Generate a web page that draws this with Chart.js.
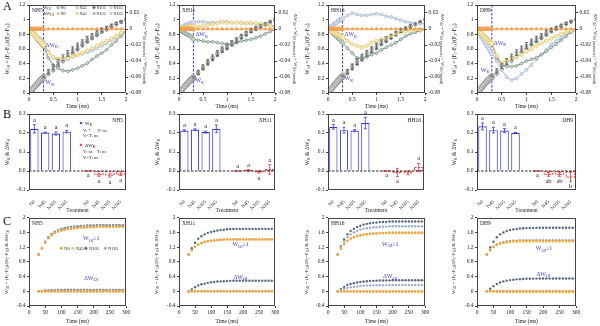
<!DOCTYPE html>
<html>
<head>
<meta charset="utf-8">
<script src="https://cdn.jsdelivr.net/npm/chart.js@4.4.1/dist/chart.umd.min.js"></script>
<style>
  body { margin: 0; background: #fff; width: 600px; height: 326px; position: relative; overflow: hidden; }
  canvas { position: absolute; }
  .lab { position: absolute; font: 12px 'Liberation Serif', serif; color: #111; }
</style>
</head>
<body>
<div class="lab" style="left:3px;top:-1px">A</div>
<div class="lab" style="left:3px;top:107px">B</div>
<div class="lab" style="left:3px;top:214px">C</div>

<canvas id="a1" width="150" height="110" style="left:0;top:0"></canvas>
<canvas id="a2" width="150" height="110" style="left:150px;top:0"></canvas>
<canvas id="a3" width="147" height="110" style="left:300px;top:0"></canvas>
<canvas id="a4" width="153" height="110" style="left:447px;top:0"></canvas>
<canvas id="b1" width="150" height="107" style="left:0;top:108px"></canvas>
<canvas id="b2" width="150" height="107" style="left:150px;top:108px"></canvas>
<canvas id="b3" width="147" height="107" style="left:300px;top:108px"></canvas>
<canvas id="b4" width="153" height="107" style="left:447px;top:108px"></canvas>
<canvas id="c1" width="150" height="113" style="left:0;top:213px"></canvas>
<canvas id="c2" width="150" height="113" style="left:150px;top:213px"></canvas>
<canvas id="c3" width="147" height="113" style="left:300px;top:213px"></canvas>
<canvas id="c4" width="153" height="113" style="left:447px;top:213px"></canvas>

<script>
// ---------- row A: W_OJ (left axis) and ΔW_OJ (right axis) vs time (ms) ----------
const tA = [0, 0.03, 0.06, 0.09, 0.12, 0.15, 0.18, 0.21, 0.24, 0.27, 0.3,
  0.4, 0.5, 0.6, 0.7, 0.8, 0.9, 1, 1.1, 1.2, 1.3, 1.4, 1.5, 1.6, 1.7, 1.8, 1.9, 2];
const zeroA = [0, 0, 0, 0, 0, 0, 0, 0, 0, 0, 0,
  0, 0, 0, 0, 0, 0, 0, 0, 0, 0, 0, 0, 0, 0, 0, 0, 0];
const errW = [0, 0, 0, 0, 0, 0, 0, 0, 0, 0, 0.01,
  0.03, 0.035, 0.04, 0.04, 0.04, 0.04, 0.04, 0.035, 0.035, 0.03, 0.03, 0.025, 0.02, 0.02, 0.015, 0.01, 0];

const aNH5_W0 = [0, 0.02, 0.045, 0.07, 0.095, 0.12, 0.14, 0.165, 0.185, 0.205, 0.222,
  0.29, 0.35, 0.42, 0.48, 0.54, 0.59, 0.64, 0.69, 0.74, 0.78, 0.82, 0.86, 0.89, 0.92, 0.95, 0.975, 1];
const aNH5_d45 = [0, -0.002, -0.004, -0.006, -0.008, -0.01, -0.012, -0.014, -0.016, -0.018, -0.02,
  -0.03, -0.035, -0.037, -0.037, -0.036, -0.034, -0.032, -0.03, -0.027, -0.024, -0.021, -0.018, -0.015, -0.012, -0.009, -0.005, -0.002];
const aNH5_d105 = [0, -0.002, -0.005, -0.007, -0.009, -0.011, -0.014, -0.016, -0.018, -0.02, -0.022,
  -0.036, -0.045, -0.049, -0.052, -0.053, -0.051, -0.049, -0.046, -0.043, -0.038, -0.034, -0.03, -0.026, -0.02, -0.015, -0.009, -0.003];
const aNH5_d165 = [0, -0.002, -0.003, -0.005, -0.007, -0.009, -0.011, -0.012, -0.014, -0.016, -0.017,
  -0.028, -0.036, -0.04, -0.04, -0.038, -0.035, -0.033, -0.031, -0.029, -0.027, -0.024, -0.021, -0.018, -0.014, -0.01, -0.006, -0.002];

const aXH11_W0 = [0, 0.02, 0.044, 0.068, 0.092, 0.115, 0.137, 0.158, 0.178, 0.196, 0.213,
  0.28, 0.35, 0.42, 0.48, 0.54, 0.59, 0.63, 0.68, 0.72, 0.77, 0.81, 0.85, 0.88, 0.91, 0.94, 0.97, 1];
const aXH11_d45 = [0, 0, 0.001, 0.001, 0.001, 0.002, 0.002, 0.002, 0.003, 0.003, 0.003,
  0.003, 0.004, 0.005, 0.006, 0.007, 0.009, 0.008, 0.008, 0.008, 0.008, 0.007, 0.008, 0.007, 0.006, 0.005, 0.004, 0.002];
const aXH11_d105 = [0, -0.001, -0.003, -0.004, -0.005, -0.006, -0.007, -0.008, -0.009, -0.011, -0.013,
  -0.014, -0.015, -0.016, -0.016, -0.017, -0.018, -0.019, -0.02, -0.017, -0.015, -0.014, -0.013, -0.011, -0.009, -0.006, -0.003, -0.001];
const aXH11_d165 = [0, 0.001, 0.002, 0.003, 0.004, 0.005, 0.006, 0.006, 0.007, 0.008, 0.008,
  0.009, 0.009, 0.008, 0.008, 0.008, 0.009, 0.009, 0.008, 0.008, 0.007, 0.007, 0.007, 0.006, 0.006, 0.006, 0.005, 0.003];

const aHH16_W0 = [0, 0.022, 0.048, 0.074, 0.1, 0.125, 0.15, 0.172, 0.193, 0.213, 0.232,
  0.29, 0.36, 0.43, 0.49, 0.54, 0.59, 0.64, 0.69, 0.73, 0.77, 0.81, 0.85, 0.88, 0.91, 0.94, 0.97, 1];
const aHH16_d45 = [0, -0.001, -0.002, -0.003, -0.004, -0.005, -0.006, -0.007, -0.008, -0.009, -0.01,
  -0.015, -0.019, -0.021, -0.023, -0.021, -0.017, -0.015, -0.013, -0.011, -0.009, -0.007, -0.004, -0.003, -0.002, -0.001, -0.001, 0];
const aHH16_d105 = [0, -0.002, -0.003, -0.005, -0.007, -0.008, -0.01, -0.012, -0.013, -0.015, -0.017,
  -0.024, -0.03, -0.036, -0.037, -0.035, -0.032, -0.03, -0.026, -0.023, -0.02, -0.017, -0.013, -0.009, -0.006, -0.004, -0.002, 0];
const aHH16_d165 = [0, 0.001, 0.003, 0.004, 0.006, 0.007, 0.008, 0.01, 0.011, 0.012, 0.013,
  0.017, 0.02, 0.018, 0.017, 0.017, 0.018, 0.019, 0.018, 0.016, 0.015, 0.013, 0.011, 0.009, 0.008, 0.006, 0.007, 0.007];

const aDH9_W0 = [0, 0.022, 0.049, 0.076, 0.102, 0.128, 0.152, 0.175, 0.196, 0.216, 0.235,
  0.3, 0.37, 0.43, 0.49, 0.55, 0.6, 0.65, 0.7, 0.74, 0.78, 0.82, 0.86, 0.89, 0.92, 0.95, 0.975, 1];
const aDH9_d45 = [0, -0.002, -0.004, -0.006, -0.008, -0.01, -0.012, -0.014, -0.016, -0.017, -0.018,
  -0.033, -0.042, -0.04, -0.038, -0.035, -0.032, -0.028, -0.025, -0.021, -0.018, -0.015, -0.012, -0.009, -0.006, -0.004, -0.002, -0.001];
const aDH9_d105 = [0, -0.002, -0.004, -0.006, -0.008, -0.01, -0.011, -0.013, -0.015, -0.017, -0.018,
  -0.036, -0.045, -0.047, -0.047, -0.046, -0.043, -0.04, -0.038, -0.036, -0.032, -0.028, -0.023, -0.019, -0.014, -0.009, -0.004, -0.001];
const aDH9_d165 = [0, -0.003, -0.006, -0.01, -0.013, -0.016, -0.019, -0.022, -0.025, -0.028, -0.031,
  -0.04, -0.051, -0.06, -0.064, -0.062, -0.056, -0.051, -0.045, -0.038, -0.032, -0.026, -0.019, -0.015, -0.011, -0.006, -0.003, -0.001];

const tickAx = [0, 0.5, 1, 1.5, 2];
const tickAy = [0, 0.2, 0.4, 0.6, 0.8, 1, 1.2];
const tickAy2 = [-0.08, -0.06, -0.04, -0.02, 0, 0.02];

// ---------- row B: W_K and ΔW_K bars ----------
const catB = ['N0', 'N45', 'N105', 'N165', '', 'N0', 'N45', 'N105', 'N165'];
const tickBy = [-0.1, 0, 0.1, 0.2, 0.3];

const bNH5_WK = [0.222, 0.202, 0.197, 0.207];
const bNH5_WKerr = [0.022, 0.003, 0.008, 0.006];
const bNH5_dWK = [0, -0.02, -0.022, -0.017];
const bNH5_dWKerr = [0, 0.008, 0.01, 0.007];
const bNH5_sig = ['a', 'a', 'a', 'a'];

const bXH11_WK = [0.213, 0.218, 0.205, 0.222];
const bXH11_WKerr = [0.004, 0.004, 0.005, 0.02];
const bXH11_dWK = [0, 0.003, -0.005, 0.008];
const bXH11_dWKerr = [0, 0.004, 0.006, 0.025];
const bXH11_sig = ['a', 'a', 'a', 'a'];

const bHH16_WK = [0.232, 0.215, 0.213, 0.252];
const bHH16_WKerr = [0.012, 0.015, 0.005, 0.03];
const bHH16_dWK = [0, -0.008, -0.01, 0.018];
const bHH16_dWKerr = [0, 0.022, 0.01, 0.022];
const bHH16_sig = ['a', 'a', '', 'a'];

const bDH9_WK = [0.235, 0.215, 0.213, 0.201];
const bDH9_WKerr = [0.018, 0.015, 0.01, 0.002];
const bDH9_dWK = [0, -0.018, -0.018, -0.032];
const bDH9_dWKerr = [0, 0.01, 0.01, 0.025];
const bDH9_sig = ['a', 'ab', 'ab', 'b'];

const sigWK = ['a', 'a', 'a', 'a'];

// ---------- row C: W_OI and ΔW_OI vs time (ms) ----------
const tC = [30, 40, 50, 60, 70, 80, 90, 100, 110, 120, 130, 140, 150, 160,
  170, 180, 190, 200, 210, 220, 230, 240, 250, 260, 270, 280, 290, 300];
const zeroC = [0, 0, 0, 0, 0, 0, 0, 0, 0, 0, 0, 0, 0, 0, 0, 0, 0, 0, 0, 0, 0, 0, 0, 0, 0, 0, 0, 0];

const cNH5_W0 = [1, 1.17, 1.33, 1.45, 1.53, 1.59, 1.63, 1.66, 1.68, 1.7, 1.71, 1.72, 1.73, 1.74,
  1.74, 1.75, 1.75, 1.75, 1.76, 1.76, 1.76, 1.76, 1.76, 1.76, 1.76, 1.76, 1.76, 1.76];
const cNH5_d45 = [0, -0.004, -0.007, -0.009, -0.01, -0.01, -0.011, -0.011, -0.012, -0.012, -0.012, -0.012, -0.012, -0.012,
  -0.012, -0.012, -0.012, -0.012, -0.012, -0.012, -0.012, -0.012, -0.012, -0.012, -0.012, -0.012, -0.012, -0.012];
const cNH5_d105 = [0, 0.01, 0.02, 0.025, 0.03, 0.033, 0.035, 0.037, 0.038, 0.039, 0.04, 0.04, 0.04, 0.04,
  0.04, 0.04, 0.04, 0.04, 0.04, 0.04, 0.04, 0.04, 0.04, 0.04, 0.04, 0.04, 0.04, 0.04];
const cNH5_d165 = [0, 0.005, 0.01, 0.012, 0.014, 0.015, 0.016, 0.017, 0.018, 0.018, 0.019, 0.019, 0.02, 0.02,
  0.02, 0.02, 0.02, 0.02, 0.02, 0.02, 0.02, 0.02, 0.02, 0.02, 0.02, 0.02, 0.02, 0.02];

const cXH11_W0 = [1, 1.12, 1.21, 1.27, 1.31, 1.34, 1.36, 1.37, 1.38, 1.39, 1.4, 1.4, 1.41, 1.41,
  1.41, 1.41, 1.41, 1.41, 1.41, 1.41, 1.41, 1.41, 1.41, 1.41, 1.41, 1.41, 1.41, 1.41];
const cXH11_d45 = [0, 0, 0.003, 0.004, 0.005, 0.005, 0.006, 0.006, 0.006, 0.006, 0.006, 0.006, 0.006, 0.006,
  0.006, 0.006, 0.006, 0.006, 0.006, 0.006, 0.006, 0.006, 0.006, 0.006, 0.006, 0.006, 0.006, 0.006];
const cXH11_d105 = [0, 0.05, 0.11, 0.16, 0.19, 0.21, 0.23, 0.245, 0.255, 0.265, 0.27, 0.275, 0.28, 0.285,
  0.287, 0.29, 0.29, 0.29, 0.29, 0.29, 0.29, 0.29, 0.29, 0.29, 0.29, 0.29, 0.29, 0.29];
const cXH11_d165 = [0, 0.002, 0.004, 0.006, 0.007, 0.008, 0.009, 0.01, 0.01, 0.01, 0.01, 0.01, 0.01, 0.01,
  0.01, 0.01, 0.01, 0.01, 0.01, 0.01, 0.01, 0.01, 0.01, 0.01, 0.01, 0.01, 0.01, 0.01];

const cHH16_W0 = [1, 1.16, 1.29, 1.38, 1.44, 1.48, 1.51, 1.53, 1.55, 1.56, 1.57, 1.58, 1.58, 1.59,
  1.59, 1.59, 1.6, 1.6, 1.6, 1.6, 1.6, 1.6, 1.6, 1.6, 1.6, 1.6, 1.6, 1.6];
const cHH16_d45 = [0, -0.005, -0.01, -0.012, -0.015, -0.017, -0.018, -0.019, -0.02, -0.02, -0.02, -0.02, -0.02, -0.02,
  -0.02, -0.02, -0.02, -0.02, -0.02, -0.02, -0.02, -0.02, -0.02, -0.02, -0.02, -0.02, -0.02, -0.02];
const cHH16_d105 = [0, 0.06, 0.12, 0.17, 0.2, 0.22, 0.24, 0.255, 0.265, 0.275, 0.28, 0.285, 0.29, 0.293,
  0.295, 0.297, 0.298, 0.3, 0.3, 0.3, 0.3, 0.3, 0.3, 0.3, 0.3, 0.3, 0.3, 0.3];
const cHH16_d165 = [0, 0.03, 0.07, 0.09, 0.11, 0.125, 0.135, 0.145, 0.15, 0.155, 0.16, 0.162, 0.165, 0.167,
  0.168, 0.169, 0.17, 0.17, 0.17, 0.17, 0.17, 0.17, 0.17, 0.17, 0.17, 0.17, 0.17, 0.17];

const cDH9_W0 = [1, 1.12, 1.21, 1.27, 1.31, 1.33, 1.35, 1.36, 1.37, 1.37, 1.38, 1.38, 1.38, 1.38,
  1.38, 1.38, 1.38, 1.38, 1.38, 1.38, 1.38, 1.38, 1.38, 1.38, 1.38, 1.38, 1.38, 1.38];
const cDH9_d45 = [0, -0.01, -0.015, -0.02, -0.022, -0.025, -0.027, -0.028, -0.029, -0.03, -0.03, -0.03, -0.03, -0.03,
  -0.03, -0.03, -0.03, -0.03, -0.03, -0.03, -0.03, -0.03, -0.03, -0.03, -0.03, -0.03, -0.03, -0.03];
const cDH9_d105 = [0, 0.07, 0.14, 0.2, 0.24, 0.27, 0.29, 0.305, 0.315, 0.325, 0.33, 0.335, 0.34, 0.342,
  0.344, 0.346, 0.348, 0.35, 0.35, 0.35, 0.35, 0.35, 0.35, 0.35, 0.35, 0.35, 0.35, 0.35];
const cDH9_d165 = [0, 0.003, 0.005, 0.007, 0.008, 0.009, 0.01, 0.01, 0.01, 0.01, 0.01, 0.01, 0.01, 0.01,
  0.01, 0.01, 0.01, 0.01, 0.01, 0.01, 0.01, 0.01, 0.01, 0.01, 0.01, 0.01, 0.01, 0.01];

const tickCx = [0, 50, 100, 150, 200, 250, 300];
const tickCy = [-0.4, 0, 0.4, 0.8, 1.2, 1.6, 2];

// ---------- shared helpers ----------
const FONT = 'Liberation Serif';
const BLUE = '#3a3ad2';
const RED = '#e03a3a';
const INK = '#222';
Chart.defaults.font.family = FONT;
Chart.defaults.font.size = 5.5;
Chart.defaults.color = INK;

// text with subscripts: parts = [[text, isSub], ...]
function rich(ctx, parts, x, y, rot, size, color, align) {
  const sub = size * 0.72;
  const f = p => (p[1] ? sub : size) + 'px "' + FONT + '"';
  ctx.save();
  ctx.translate(x, y);
  ctx.rotate(rot);
  ctx.fillStyle = color;
  ctx.textAlign = 'left';
  ctx.textBaseline = 'alphabetic';
  let w = 0;
  parts.forEach(p => { ctx.font = f(p); w += ctx.measureText(p[0]).width; });
  let cx = align === 'l' ? 0 : align === 'r' ? -w : -w / 2;
  parts.forEach(p => {
    ctx.font = f(p);
    ctx.fillText(p[0], cx, size * 0.35 + (p[1] ? size * 0.28 : 0));
    cx += ctx.measureText(p[0]).width;
  });
  ctx.restore();
}

function mark(ctx, shape, x, y, r, stroke, fill) {
  ctx.save();
  ctx.beginPath();
  if (shape === 'triangle') {
    ctx.moveTo(x, y - r); ctx.lineTo(x + r * 0.9, y + r * 0.6); ctx.lineTo(x - r * 0.9, y + r * 0.6); ctx.closePath();
  } else if (shape === 'rectRot') {
    ctx.moveTo(x, y - r); ctx.lineTo(x + r, y); ctx.lineTo(x, y + r); ctx.lineTo(x - r, y); ctx.closePath();
  } else if (shape === 'rect') {
    ctx.rect(x - r * 0.8, y - r * 0.8, r * 1.6, r * 1.6);
  } else {
    ctx.arc(x, y, r, 0, Math.PI * 2);
  }
  ctx.fillStyle = fill; ctx.fill();
  ctx.strokeStyle = stroke; ctx.lineWidth = 0.7; ctx.stroke();
  ctx.restore();
}

const frame = {
  id: 'frame',
  afterDatasetsDraw(c) {
    const a = c.chartArea, ctx = c.ctx;
    ctx.save();
    ctx.strokeStyle = '#444';
    ctx.lineWidth = 1;
    ctx.strokeRect(Math.round(a.left) + 0.5, Math.round(a.top) + 0.5,
      Math.round(a.right - a.left) - 1, Math.round(a.bottom - a.top) - 1);
    ctx.restore();
  }
};

// error bars, dashed bar outlines and significance letters
const errbars = {
  id: 'errbars',
  afterDatasetsDraw(c) {
    const ctx = c.ctx;
    c.data.datasets.forEach((ds, di) => {
      if (!ds.errs && !ds.dashed) return;
      const meta = c.getDatasetMeta(di);
      const ys = c.scales[meta.yAxisID];
      ctx.save();
      meta.data.forEach((el, i) => {
        const d = ds.data[i];
        const v = d !== null && typeof d === 'object' ? d.y : d;
        if (v == null) return;
        const e = ds.errs ? ds.errs[i] || 0 : 0;
        if (ds.dashed) {
          const p = el.getProps(['x', 'y', 'base', 'width'], true);
          ctx.strokeStyle = ds.dashed;
          ctx.lineWidth = 1;
          ctx.setLineDash([2, 1.3]);
          ctx.strokeRect(p.x - p.width / 2, Math.min(p.y, p.base), p.width, Math.abs(p.base - p.y));
          ctx.setLineDash([]);
        }
        if (e > 0) {
          const y1 = ys.getPixelForValue(v + e), y2 = ys.getPixelForValue(v - e);
          ctx.strokeStyle = ds.errColor;
          ctx.lineWidth = 0.8;
          ctx.beginPath();
          ctx.moveTo(el.x, y1); ctx.lineTo(el.x, y2);
          ctx.moveTo(el.x - 1.5, y1); ctx.lineTo(el.x + 1.5, y1);
          ctx.moveTo(el.x - 1.5, y2); ctx.lineTo(el.x + 1.5, y2);
          ctx.stroke();
        }
        if (ds.sig && ds.sig[i]) {
          const dir = ds.sigDir ? ds.sigDir[i] : 1;
          ctx.fillStyle = INK;
          ctx.font = '6.5px "' + FONT + '"';
          ctx.textAlign = 'center';
          ctx.textBaseline = dir > 0 ? 'bottom' : 'top';
          ctx.fillText(ds.sig[i], el.x, ys.getPixelForValue(v + dir * e) - dir * 1.5);
        }
      });
      ctx.restore();
    });
  }
};

const setTicks = arr => s => { s.ticks = arr.map(v => ({ value: v })); };

function axis(position, min, max, ticks, fmt, fit) {
  return {
    type: 'linear', position, min, max,
    afterBuildTicks: setTicks(ticks),
    afterFit: fit,
    grid: { drawOnChartArea: false, tickLength: 2, color: '#444' },
    border: { display: false },
    ticks: { padding: 1.5, font: { size: 5.5 }, callback: fmt }
  };
}

const baseOpts = {
  responsive: false,
  animation: false,
  events: [],
  plugins: { legend: { display: false }, tooltip: { enabled: false } }
};

const titleA = [['W', 0], ['OJ', 1], [' = (F', 0], ['t', 1], ['\u2212F', 0], ['O', 1], [')/(F', 0], ['J', 1], ['\u2212F', 0], ['O', 1], [')', 0]];
const titleA2 = [['\u0394W', 0], ['OJ', 1], [' = W', 0], ['OJ (treatment)', 1], [' \u2212 W', 0], ['OJ (control)', 1]];
const titleB = [['W', 0], ['K', 1], [' & \u0394W', 0], ['K', 1]];
const titleC = [['W', 0], ['OI', 1], [' = (F', 0], ['t', 1], ['\u2212F', 0], ['O', 1], [')/(F', 0], ['I', 1], ['\u2212F', 0], ['O', 1], [') & \u0394W', 0], ['OI', 1]];

const styA = {
  d0: ['#f0a050', '#f0a050', 'triangle'],
  d45: ['#e0c866', '#f6ecc4', 'circle'],
  d105: ['#6f8c7c', '#c9d5cd', 'rectRot'],
  d165: ['#a9b6d6', '#e2e7f3', 'rect'],
  w0: ['#8a8a8a', '#d4d4d4', 'circle'],
  w45: ['#a5a5a5', '#e2e2e2', 'circle'],
  w105: ['#707070', '#707070', 'circle'],
  w165: ['#a8b4d0', '#d8dfee', 'circle']
};

// the dense 0-0.3 ms part reads as a thick band in the figure
const radA = small => ctx => (ctx.raw && ctx.raw.x <= 0.3 ? 2.4 : small);

// ---------- row A ----------
function panelA(id, name, w0, d45, d105, d165, lab, L, R, legend) {
  const pts = arr => tA.map((t, i) => ({ x: t, y: arr[i] }));
  const wT = d => tA.map((t, i) => ({ x: t, y: w0[i] + d[i] }));
  const dsD = (data, s) => ({ data, yAxisID: 'y2', showLine: true, borderColor: s[0], borderWidth: 1,
    pointStyle: s[2], pointRadius: radA(1.8), pointBorderWidth: 0.7, pointBorderColor: s[0], pointBackgroundColor: s[1] });
  const dsW = (data, s) => ({ data, yAxisID: 'y', showLine: false,
    pointStyle: s[2], pointRadius: radA(1.5), pointBorderWidth: 0.7, pointBorderColor: s[0], pointBackgroundColor: s[1] });
  const w0ds = dsW(pts(w0), styA.w0);
  w0ds.errs = errW;
  w0ds.errColor = '#555';
  new Chart(document.getElementById(id), {
    type: 'scatter',
    data: {
      datasets: [
        dsD(pts(zeroA), styA.d0),
        dsD(pts(d45), styA.d45),
        dsD(pts(d105), styA.d105),
        dsD(pts(d165), styA.d165),
        w0ds,
        dsW(wT(d45), styA.w45),
        dsW(wT(d105), styA.w105),
        dsW(wT(d165), styA.w165)
      ]
    },
    options: Object.assign({}, baseOpts, {
      layout: { padding: { top: 5, left: 0, right: 0, bottom: 0 } },
      scales: {
        x: axis('bottom', 0, 2, tickAx, v => String(v), s => { s.height = 17; }),
        y: axis('left', 0, 1.2, tickAy, v => String(+v.toFixed(1)), s => { s.width = L; }),
        y2: axis('right', -0.08, 0.03, tickAy2, v => String(+v.toFixed(2)), s => { s.width = R; })
      }
    }),
    plugins: [frame, errbars, {
      id: 'txtA',
      beforeDatasetsDraw(c) {
        const a = c.chartArea, ctx = c.ctx;
        const px = c.scales.x.getPixelForValue(0.3);
        ctx.save();
        ctx.strokeStyle = BLUE;
        ctx.lineWidth = 1;
        ctx.setLineDash([2.5, 1.5]);
        ctx.beginPath(); ctx.moveTo(px, a.top); ctx.lineTo(px, a.bottom); ctx.stroke();
        ctx.restore();
      },
      afterDraw(c) {
        const a = c.chartArea, ctx = c.ctx, ys = c.scales.y;
        const px = c.scales.x.getPixelForValue(0.3);
        rich(ctx, [['\u0394W', 0], ['K', 1]], px + lab[0], ys.getPixelForValue(lab[1]), 0, 6, BLUE, 'l');
        rich(ctx, [['W', 0], ['K', 1]], px + lab[2], ys.getPixelForValue(lab[3]), 0, 6, BLUE, 'l');
        rich(ctx, [[name, 0]], a.left + 3, a.top + 5, 0, 5.5, INK, 'l');
        rich(ctx, titleA, 7, (a.top + a.bottom) / 2, -Math.PI / 2, 5.5, INK, 'c');
        rich(ctx, titleA2, c.width - 4, (a.top + a.bottom) / 2, Math.PI / 2, 5, INK, 'c');
        rich(ctx, [['Time (ms)', 0]], (a.left + a.right) / 2, c.height - 3.5, 0, 5.5, INK, 'c');
        if (legend) {
          const r1 = a.top + 2.5, r2 = a.top + 8.5;
          rich(ctx, [['W', 0], ['OJ', 1]], a.left + 14, r1, 0, 4.5, INK, 'l');
          rich(ctx, [['\u0394W', 0], ['OJ', 1]], a.left + 14, r2, 0, 4.5, INK, 'l');
          const xs = [29, 48, 65, 82];
          const lbl = ['N0', 'N45', 'N105', 'N165'];
          const wS = [styA.w0, styA.w45, styA.w105, styA.w165];
          const dS = [styA.d0, styA.d45, styA.d105, styA.d165];
          xs.forEach((dx, i) => {
            mark(ctx, wS[i][2], a.left + dx, r1, 1.3, wS[i][0], wS[i][1]);
            mark(ctx, dS[i][2], a.left + dx, r2, 1.3, dS[i][0], dS[i][1]);
            rich(ctx, [[lbl[i], 0]], a.left + dx + 2.5, r1, 0, 4.2, INK, 'l');
            rich(ctx, [[lbl[i], 0]], a.left + dx + 2.5, r2, 0, 4.2, INK, 'l');
          });
        }
      }
    }]
  });
}

// ---------- row B ----------
function panelB(id, name, wk, wkE, dwk, dwkE, sigD, dirD, L, R, legend) {
  const pad5 = [null, null, null, null, null];
  new Chart(document.getElementById(id), {
    type: 'bar',
    data: {
      labels: catB,
      datasets: [
        { data: wk.concat(pad5), errs: wkE.concat(pad5), sig: sigWK.concat(pad5), errColor: BLUE,
          backgroundColor: '#fff', borderColor: BLUE, borderWidth: 1.1, grouped: false,
          barPercentage: 0.78, categoryPercentage: 1 },
        { data: pad5.concat(dwk), errs: pad5.concat(dwkE), sig: pad5.concat(sigD), sigDir: pad5.concat(dirD),
          errColor: RED, dashed: RED, backgroundColor: 'rgba(255,255,255,0)', borderWidth: 0, grouped: false,
          barPercentage: 0.78, categoryPercentage: 1 }
      ]
    },
    options: Object.assign({}, baseOpts, {
      layout: { padding: { top: 6, left: 0, right: R, bottom: 0 } },
      scales: {
        x: {
          type: 'category', offset: true,
          afterFit: s => { s.height = 25; },
          grid: { display: false },
          border: { display: false },
          ticks: { autoSkip: false, minRotation: 45, maxRotation: 45, padding: 1, font: { size: 5 } }
        },
        y: axis('left', -0.1, 0.3, tickBy, v => v.toFixed(1), s => { s.width = L; })
      }
    }),
    plugins: [frame, errbars, {
      id: 'txtB',
      afterDraw(c) {
        const a = c.chartArea, ctx = c.ctx;
        const y0 = c.scales.y.getPixelForValue(0);
        ctx.save();
        ctx.strokeStyle = '#111';
        ctx.lineWidth = 0.9;
        ctx.setLineDash([2.5, 1.5]);
        ctx.beginPath(); ctx.moveTo(a.left, y0); ctx.lineTo(a.right, y0); ctx.stroke();
        ctx.restore();
        rich(ctx, [[name, 0]], a.right - 3, a.top + 6, 0, 5.5, INK, 'r');
        rich(ctx, titleB, 7, (a.top + a.bottom) / 2, -Math.PI / 2, 5.5, INK, 'c');
        rich(ctx, [['Treatment', 0]], (a.left + a.right) / 2, c.height - 5, 0, 5.5, INK, 'c');
        if (legend) {
          const x0 = a.left + 52;
          mark(ctx, 'circle', x0, a.top + 9, 0.9, BLUE, BLUE);
          rich(ctx, [['W', 0], ['K', 1]], x0 + 4, a.top + 9, 0, 5, INK, 'l');
          rich(ctx, [['V: *      T: ns', 0]], x0 + 2, a.top + 16, 0, 4.6, INK, 'l');
          rich(ctx, [['V\u00d7T: ns', 0]], x0 + 2, a.top + 21.5, 0, 4.6, INK, 'l');
          mark(ctx, 'circle', x0, a.top + 31, 0.9, RED, RED);
          rich(ctx, [['\u0394W', 0], ['K', 1]], x0 + 4, a.top + 31, 0, 5, INK, 'l');
          rich(ctx, [['V: ns    T: ns', 0]], x0 + 2, a.top + 37.5, 0, 4.6, INK, 'l');
          rich(ctx, [['V\u00d7T: ns', 0]], x0 + 2, a.top + 43, 0, 4.6, INK, 'l');
        }
      }
    }]
  });
}

// ---------- row C ----------
const styC = {
  n0: '#f0a040',
  n45: '#f2d165',
  n105: '#56667c',
  n165: '#9cacc6'
};

function panelC(id, name, w0, d45, d105, d165, labW, labD, L, R, legend) {
  const pts = arr => tC.map((t, i) => ({ x: t, y: arr[i] }));
  const wT = d => tC.map((t, i) => ({ x: t, y: w0[i] + d[i] }));
  const ds = (data, col) => ({ data, showLine: false, pointRadius: 1.2, pointBorderWidth: 0,
    pointBackgroundColor: col, pointBorderColor: col });
  new Chart(document.getElementById(id), {
    type: 'scatter',
    data: {
      datasets: [
        ds(pts(zeroC), styC.n0),
        ds(pts(w0), styC.n0),
        ds(pts(d45), styC.n45),
        ds(wT(d45), styC.n45),
        ds(pts(d165), styC.n165),
        ds(wT(d165), styC.n165),
        ds(pts(d105), styC.n105),
        ds(wT(d105), styC.n105)
      ]
    },
    options: Object.assign({}, baseOpts, {
      layout: { padding: { top: 4, left: 0, right: R, bottom: 0 } },
      scales: {
        x: axis('bottom', 0, 300, tickCx, v => String(v), s => { s.height = 20; }),
        y: axis('left', -0.4, 2, tickCy, v => String(+v.toFixed(1)), s => { s.width = L; })
      }
    }),
    plugins: [frame, {
      id: 'txtC',
      afterDraw(c) {
        const a = c.chartArea, ctx = c.ctx, xs = c.scales.x, ys = c.scales.y;
        rich(ctx, [[name, 0]], a.left + 3, a.top + 5, 0, 5.5, INK, 'l');
        rich(ctx, [['W', 0], ['OI', 1], ['\u22651', 0]], xs.getPixelForValue(labW[0]), ys.getPixelForValue(labW[1]), 0, 6, BLUE, 'l');
        rich(ctx, [['\u0394W', 0], ['OI', 1]], xs.getPixelForValue(labD[0]), ys.getPixelForValue(labD[1]), 0, 6, BLUE, 'l');
        rich(ctx, titleC, 6, (a.top + a.bottom) / 2, -Math.PI / 2, 5, INK, 'c');
        rich(ctx, [['Time (ms)', 0]], (a.left + a.right) / 2, c.height - 5, 0, 5.5, INK, 'c');
        if (legend) {
          const lx = [100, 136, 176, 236];
          const lbl = ['N0', 'N45', 'N105', 'N165'];
          const col = [styC.n0, styC.n45, styC.n105, styC.n165];
          const ly = ys.getPixelForValue(1.17);
          lx.forEach((v, i) => {
            const px = xs.getPixelForValue(v);
            mark(ctx, 'circle', px, ly, 1.2, col[i], col[i]);
            rich(ctx, [[lbl[i], 0]], px + 3, ly, 0, 4.5, INK, 'l');
          });
        }
      }
    }]
  });
}

panelA('a1', 'NH5', aNH5_W0, aNH5_d45, aNH5_d105, aNH5_d165, [2, 0.66, 2, 0.15], 29, 24, true);
panelA('a2', 'XH11', aXH11_W0, aXH11_d45, aXH11_d105, aXH11_d165, [2, 0.8, 2, 0.18], 29, 25, false);
panelA('a3', 'HH16', aHH16_W0, aHH16_d45, aHH16_d105, aHH16_d165, [2, 0.8, 2, 0.2], 28, 22, false);
panelA('a4', 'DH9', aDH9_W0, aDH9_d45, aDH9_d105, aDH9_d165, [2, 0.69, -11, 0.32], 30, 24, false);

panelB('b1', 'NH5', bNH5_WK, bNH5_WKerr, bNH5_dWK, bNH5_dWKerr, bNH5_sig, [-1, -1, -1, -1], 29, 24, true);
panelB('b2', 'XH11', bXH11_WK, bXH11_WKerr, bXH11_dWK, bXH11_dWKerr, bXH11_sig, [1, 1, -1, 1], 29, 25, false);
panelB('b3', 'HH16', bHH16_WK, bHH16_WKerr, bHH16_dWK, bHH16_dWKerr, bHH16_sig, [-1, -1, -1, 1], 28, 23, false);
panelB('b4', 'DH9', bDH9_WK, bDH9_WKerr, bDH9_dWK, bDH9_dWKerr, bDH9_sig, [-1, -1, -1, -1], 30, 24, false);

panelC('c1', 'NH5', cNH5_W0, cNH5_d45, cNH5_d105, cNH5_d165, [167, 1.45], [170, 0.37], 29, 24, true);
panelC('c2', 'XH11', cXH11_W0, cXH11_d45, cXH11_d105, cXH11_d165, [167, 1.29], [170, 0.4], 29, 25, false);
panelC('c3', 'HH16', cHH16_W0, cHH16_d45, cHH16_d105, cHH16_d165, [167, 1.3], [170, 0.42], 28, 22, false);
panelC('c4', 'DH9', cDH9_W0, cDH9_d45, cDH9_d105, cDH9_d165, [178, 1.18], [180, 0.48], 30, 24, false);
</script>
</body>
</html>
